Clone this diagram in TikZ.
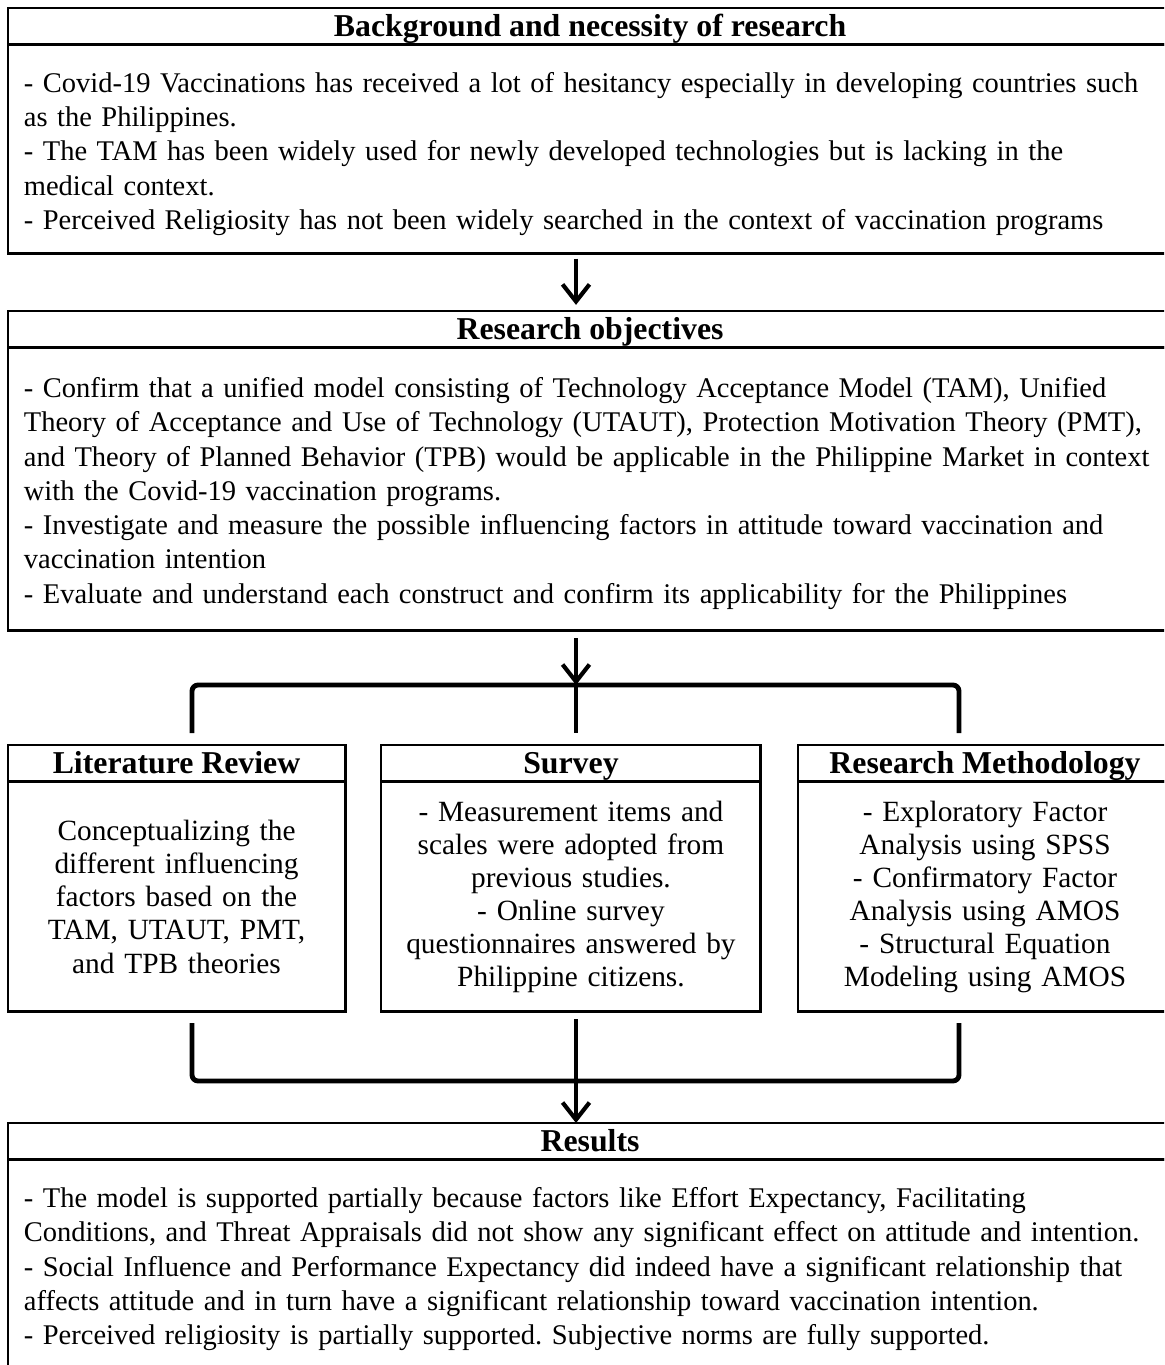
\documentclass[tikz,border=0pt]{standalone}
\usepackage{fontspec}
\setmainfont{Liberation Serif}
\usetikzlibrary{arrows.meta,positioning}
\frenchspacing

\begin{document}
\begin{tikzpicture}[x=0.4088pt, y=-0.4088pt,
    >={Straight Barb[length=7pt, width=11pt]},
    hd/.style={draw, line width=1.2pt, outer sep=0pt, font=\fontsize{13}{15}\selectfont\bfseries, minimum height=15.1pt, text height=10.5pt, text depth=2pt, inner sep=0pt, anchor=north west},
    bd/.style={draw, line width=1.2pt, outer sep=0pt, font=\fontsize{12}{13.5}\selectfont, inner xsep=6.5pt, inner ysep=0pt, anchor=north west},
    wide/.style={font=\fontsize{11.65}{14}\selectfont, text width=480pt, align=left},
    arr/.style={->, line width=1.7pt},
    brk/.style={line width=2pt, rounded corners=2.5pt}]
    \useasboundingbox (0,0) rectangle (1164,1365);
    \clip (0,0) rectangle (1164,1365);
    % background
    \node[hd, minimum width=475.9pt] (bgh) at (8,8) {Background and necessity of research};
    \node[bd, wide, minimum height=85.4pt] (bgb) at (bgh.south west) {\rule{0pt}{12pt}- Covid-19 Vaccinations has received a lot of hesitancy especially in developing countries such\\
        as the Philippines.\\
        - The TAM has been widely used for newly developed technologies but is lacking in the\\
        medical context.\\
        - Perceived Religiosity has not been widely searched in the context of vaccination programs};
    % objectives
    \node[hd, minimum width=475.9pt] (objh) at (8,311) {Research objectives};
    \node[bd, wide, minimum height=115.7pt] (objb) at (objh.south west) {\rule{0pt}{11.5pt}- Confirm that a unified model consisting of Technology Acceptance Model (TAM), Unified\\
        Theory of Acceptance and Use of Technology (UTAUT), Protection Motivation Theory (PMT),\\
        and Theory of Planned Behavior (TPB) would be applicable in the Philippine Market in context\\
        with the Covid-19 vaccination programs.\\
        - Investigate and measure the possible influencing factors in attitude toward vaccination and\\
        vaccination intention\\
        - Evaluate and understand each construct and confirm its applicability for the Philippines};
    % three steps
    \node[hd, minimum width=137.8pt] (lith) at (8,745) {Literature Review};
    \node[bd, text width=124.8pt, align=center, minimum height=94pt] (litb) at (lith.south west) {Conceptualizing the\\ different influencing\\ factors based on the\\ TAM, UTAUT, PMT,\\ and TPB theories};
    \node[hd, minimum width=155.3pt] (survh) at (381,745) {Survey};
    \node[bd, text width=142.3pt, align=center, minimum height=94pt] (survb) at (survh.south west) {- Measurement items and\\ scales were adopted from\\ previous studies.\\ - Online survey\\ questionnaires answered by\\ Philippine citizens.};
    \node[hd, minimum width=152.9pt] (methh) at (798,745) {Research Methodology};
    \node[bd, text width=139.9pt, align=center, minimum height=94pt] (methb) at (methh.south west) {- Exploratory Factor\\ Analysis using SPSS\\ - Confirmatory Factor\\ Analysis using AMOS\\ - Structural Equation\\ Modeling using AMOS};
    % results
    \node[hd, minimum width=475.9pt] (resh) at (8,1123) {Results};
    \node[bd, wide, minimum height=85.4pt] (resb) at (resh.south west) {\rule{0pt}{12pt}- The model is supported partially because factors like Effort Expectancy, Facilitating\\
        Conditions, and Threat Appraisals did not show any significant effect on attitude and intention.\\
        - Social Influence and Performance Expectancy did indeed have a significant relationship that\\
        affects attitude and in turn have a significant relationship toward vaccination intention.\\
        - Perceived religiosity is partially supported. Subjective norms are fully supported.};
    % brackets
    \coordinate (tj) at (576,685);
    \coordinate (tl) at (192,733);
    \coordinate (tr) at (959,733);
    \coordinate (bj) at (576,1081);
    \coordinate (bl) at (192,1023);
    \coordinate (br) at (959,1023);
    \draw[brk] (tl) |- (tj) -| (tr);
    \draw[brk] (bl) |- (bj) -| (br);
    \draw[brk] (tj) -- (tj |- tl);
    % arrows
    \draw[arr] ([yshift=-2pt]bgb.south -| tj) -- ([yshift=2.5pt]objh.north -| tj);
    \draw[arr] ([yshift=-3pt]objb.south -| tj) -- (tj);
    \draw[arr] ([yshift=-3pt]survb.south -| bj) -- (resh.north -| bj);
\end{tikzpicture}
\end{document}
